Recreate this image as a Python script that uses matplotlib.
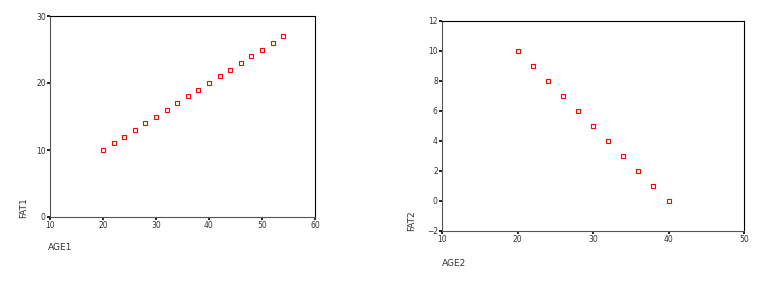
import matplotlib
matplotlib.use("Agg")
import matplotlib.pyplot as plt

# left panel data
age1 = [20, 22, 24, 26, 28, 30, 32, 34, 36, 38, 40, 42, 44, 46, 48, 50, 52, 54]
fat1 = [10, 11, 12, 13, 14, 15, 16, 17, 18, 19, 20, 21, 22, 23, 24, 25, 26, 27]

# right panel data
age2 = [20, 22, 24, 26, 28, 30, 32, 34, 36, 38, 40]
fat2 = [10, 9, 8, 7, 6, 5, 4, 3, 2, 1, 0]

W, H = 773, 288
fig = plt.figure(figsize=(W / 100, H / 100), dpi=100)
fig.patch.set_facecolor("white")

TXT = "#333333"


def panel(rect, x, y, xlim, ylim, xticks, yticks, xlabel, ylabel, xlab_pos, ylab_pos):
    l, t, r, b = rect
    ax = fig.add_axes([l / W, 1 - b / H, (r - l) / W, (b - t) / H])
    ax.plot(x, y, linestyle="none", marker="s", markersize=2.7,
            markerfacecolor="white", markeredgecolor="red", markeredgewidth=0.8)
    ax.set_xlim(*xlim)
    ax.set_ylim(*ylim)
    ax.set_xticks(xticks)
    ax.set_yticks(yticks)
    ax.tick_params(labelsize=5.5, labelcolor=TXT, length=2, width=1.2,
                   color="black", pad=1)
    for s in ax.spines.values():
        s.set_color("black")
        s.set_linewidth(0.8)
    ax.spines["left"].set_color("#555555")
    ax.spines["bottom"].set_color("#555555")
    fig.text(xlab_pos[0] / W, 1 - xlab_pos[1] / H, xlabel, fontsize=6.5,
             color=TXT, ha="left", va="center")
    fig.text(ylab_pos[0] / W, 1 - ylab_pos[1] / H, ylabel, fontsize=6.5,
             color=TXT, ha="center", va="bottom", rotation=90)
    return ax


panel((50, 16, 315, 217), age1, fat1, (10, 60), (0, 30),
      [10, 20, 30, 40, 50, 60], [0, 10, 20, 30],
      "AGE1", "FAT1", (48, 248), (24, 218))

panel((442, 21, 744, 231), age2, fat2, (10, 50), (-2, 12),
      [10, 20, 30, 40, 50], [-2, 0, 2, 4, 6, 8, 10, 12],
      "AGE2", "FAT2", (442, 263), (412, 231))

fig.savefig("out.png", dpi=100)
